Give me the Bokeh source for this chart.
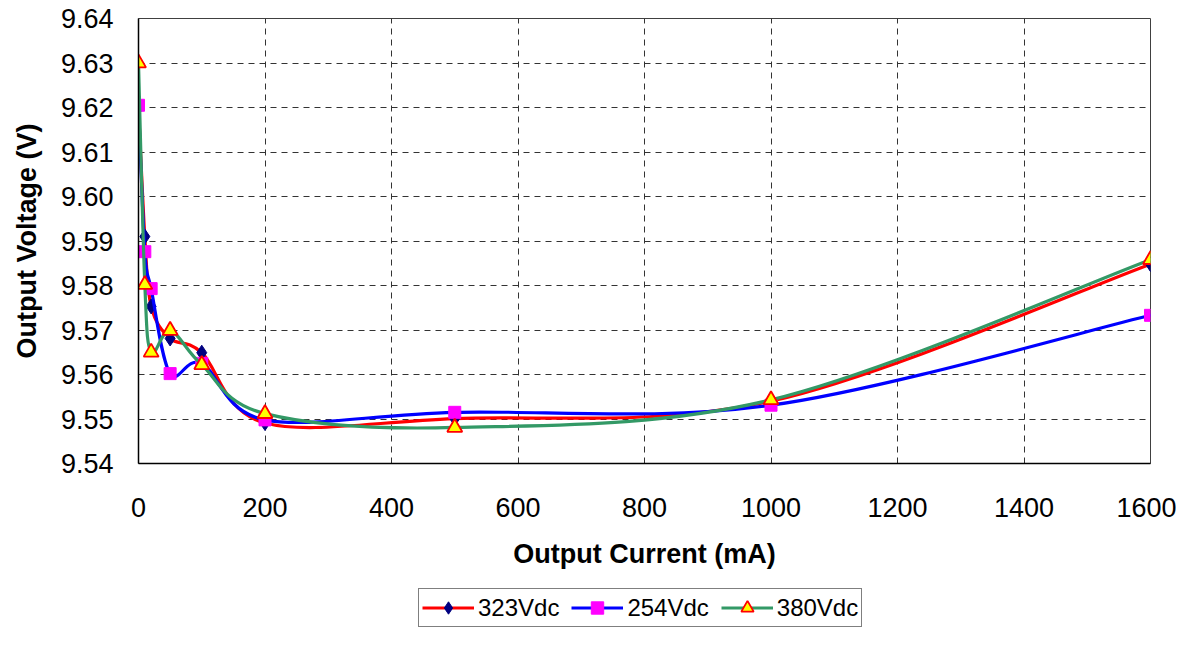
import numpy as np
from bokeh.plotting import figure
from bokeh.layouts import column
from bokeh.models import FixedTicker, PrintfTickFormatter, Range1d, Legend, LegendItem
from bokeh.embed import file_html
from bokeh.resources import INLINE

# ---- data ----
current_ma = [0, 10, 20, 50, 100, 200, 500, 1000, 1600]
v_323 = [9.6200, 9.5910, 9.5753, 9.5681, 9.5649, 9.5491, 9.5501, 9.5540, 9.5848]
v_254 = [9.6205, 9.5876, 9.5793, 9.5602, 9.5625, 9.5498, 9.5515, 9.5531, 9.5733]
v_380 = [9.6300, 9.5802, 9.5650, 9.5699, 9.5622, 9.5512, 9.5481, 9.5543, 9.5858]
series_names = ["323Vdc", "254Vdc", "380Vdc"]
x_ticks = [0, 200, 400, 600, 800, 1000, 1200, 1400, 1600]
y_ticks = [9.54, 9.55, 9.56, 9.57, 9.58, 9.59, 9.60, 9.61, 9.62, 9.63, 9.64]

FONT = "Liberation Sans"
line_colors = ["#FF0000", "#0000FF", "#339966"]
marker_specs = [
    dict(marker="diamond", size=15, fill_color="#000080", line_color="#000080"),
    dict(marker="square", size=12, fill_color="#FF00FF", line_color="#FF00FF"),
    dict(marker="triangle", size=15, fill_color="#FFFF00", line_color="#FF0000", line_width=1.8),
]

p = figure(frame_width=1012, frame_height=445, output_backend="svg", toolbar_location=None,
           x_range=Range1d(0, 1600), y_range=Range1d(9.54, 9.64),
           min_border_left=138, min_border_right=26, min_border_top=18,
           min_border_bottom=125)
p.background_fill_color = "white"
p.border_fill_color = "white"
p.outline_line_color = "#404040"
p.outline_line_width = 1

p.xaxis.ticker = FixedTicker(ticks=x_ticks)
p.yaxis.ticker = FixedTicker(ticks=y_ticks)
p.yaxis.formatter = PrintfTickFormatter(format="%.2f")
for ax in (p.xaxis, p.yaxis):
    ax.major_tick_out = 0
    ax.major_tick_in = 0
    ax.minor_tick_out = 0
    ax.minor_tick_in = 0
    ax.axis_line_color = "black"
    ax.axis_line_width = 1.5
    ax.major_label_text_font = FONT
    ax.major_label_text_font_size = "27px"
    ax.major_label_text_color = "black"
    ax.axis_label_text_font = FONT
    ax.axis_label_text_font_size = "27px"
    ax.axis_label_text_font_style = "bold"
    ax.axis_label_text_color = "black"
p.xaxis.axis_label = "Output Current (mA)"
p.yaxis.axis_label = "Output Voltage (V)"
p.xaxis.major_label_standoff = 34
p.xaxis.axis_label_standoff = 19
p.yaxis.major_label_standoff = 25
p.yaxis.axis_label_standoff = 16

p.grid.grid_line_color = "#333333"
p.grid.grid_line_dash = "6 5"
p.grid.grid_line_width = 1


def smooth_segments(xs, ys):
    xs = np.asarray(xs, float)
    ys = np.asarray(ys, float)
    n = len(xs)
    px = np.concatenate([[xs[0]], xs, [xs[-1]]])
    py = np.concatenate([[ys[0]], ys, [ys[-1]]])
    seg = dict(x0=[], y0=[], x1=[], y1=[], cx0=[], cy0=[], cx1=[], cy1=[])
    for i in range(n - 1):
        a, b, c, d = i, i + 1, i + 2, i + 3
        seg["x0"].append(px[b]); seg["y0"].append(py[b])
        seg["x1"].append(px[c]); seg["y1"].append(py[c])
        seg["cx0"].append(px[b] + (px[c] - px[a]) / 6)
        seg["cy0"].append(py[b] + (py[c] - py[a]) / 6)
        seg["cx1"].append(px[c] - (px[d] - px[b]) / 6)
        seg["cy1"].append(py[c] - (py[d] - py[b]) / 6)
    return seg


values = [v_323, v_254, v_380]
for k, (vals, lc) in enumerate(zip(values, line_colors)):
    seg = smooth_segments(current_ma, vals)
    p.bezier(x0=seg["x0"], y0=seg["y0"], x1=seg["x1"], y1=seg["y1"],
             cx0=seg["cx0"], cy0=seg["cy0"], cx1=seg["cx1"], cy1=seg["cy1"],
             line_color=lc, line_width=3.2, line_cap="round")
    p.scatter(current_ma, vals, **marker_specs[k])

# ---- legend strip (separate figure holding legend proxies) ----
lf = figure(width=1176, height=42, output_backend="svg", toolbar_location=None,
            x_axis_type=None, y_axis_type=None, x_range=Range1d(0, 1), y_range=Range1d(0, 1),
            min_border=0, outline_line_color=None)
lf.grid.visible = False
leg_items = []
for k, name in enumerate(series_names):
    lr = lf.line([np.nan], [np.nan], line_color=line_colors[k], line_width=3.2)
    mr = lf.scatter([np.nan], [np.nan], **marker_specs[k])
    leg_items.append(LegendItem(label=name, renderers=[lr, mr]))

legend = Legend(items=leg_items, orientation="horizontal", location=(280, 3),
                label_text_font=FONT, label_text_font_size="24px",
                label_text_color="black", glyph_width=52, glyph_height=31,
                label_standoff=4, spacing=12, padding=3, margin=0,
                border_line_color="black", border_line_width=1,
                background_fill_alpha=1)
lf.add_layout(legend, "center")

layout = column(p, lf, spacing=0)
open("out.html", "w").write(file_html(layout, INLINE))
